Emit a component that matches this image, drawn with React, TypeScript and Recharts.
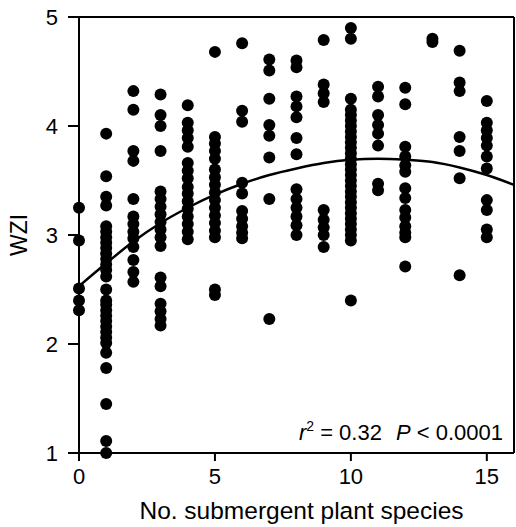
import React from 'react';
import {
  ComposedChart,
  Scatter,
  Line,
  XAxis,
  YAxis,
  ReferenceLine,
  Customized,
} from 'recharts';

// WZI values, one list per number of submergent species
const speciesCounts = [0, 1, 2, 3, 4, 5, 6, 7, 8, 9, 10, 11, 12, 13, 14, 15];

const wzi0 = [3.25, 2.95, 2.51, 2.4, 2.31];
const wzi1 = [3.93, 3.54, 3.35, 3.27, 3.08, 3.03, 2.98, 2.93, 2.88, 2.83, 2.78, 2.73, 2.68, 2.62, 2.5, 2.4, 2.36, 2.31, 2.26, 2.21, 2.16, 2.11, 2.06, 2.01, 1.92, 1.78, 1.45, 1.11, 1.0];
const wzi2 = [4.32, 4.15, 3.77, 3.68, 3.33, 3.17, 3.1, 3.03, 2.97, 2.89, 2.77, 2.66, 2.57];
const wzi3 = [4.29, 4.1, 4.0, 3.77, 3.4, 3.33, 3.26, 3.19, 3.12, 3.05, 2.98, 2.9, 2.61, 2.53, 2.37, 2.3, 2.23, 2.17];
const wzi4 = [4.19, 4.03, 3.96, 3.89, 3.81, 3.66, 3.59, 3.52, 3.44, 3.38, 3.31, 3.24, 3.17, 3.1, 3.03, 2.96];
const wzi5 = [4.68, 3.9, 3.84, 3.77, 3.7, 3.6, 3.53, 3.46, 3.39, 3.32, 3.25, 3.18, 3.11, 3.04, 2.98, 2.5, 2.45];
const wzi6 = [4.76, 4.14, 4.04, 3.48, 3.38, 3.22, 3.15, 3.08, 3.02, 2.97];
const wzi7 = [4.61, 4.51, 4.25, 4.01, 3.91, 3.71, 3.33, 2.23];
const wzi8 = [4.6, 4.54, 4.27, 4.18, 4.08, 3.89, 3.74, 3.42, 3.33, 3.25, 3.17, 3.09, 3.0];
const wzi9 = [4.79, 4.38, 4.3, 4.22, 3.23, 3.14, 3.07, 3.0, 2.89];
const wzi10 = [4.9, 4.8, 4.25, 4.15, 4.1, 4.05, 4.0, 3.95, 3.9, 3.85, 3.8, 3.75, 3.7, 3.65, 3.6, 3.55, 3.5, 3.45, 3.4, 3.35, 3.3, 3.25, 3.2, 3.15, 3.1, 3.05, 3.0, 2.95, 2.4];
const wzi11 = [4.36, 4.27, 4.1, 4.01, 3.93, 3.82, 3.47, 3.41];
const wzi12 = [4.35, 4.2, 3.81, 3.72, 3.64, 3.58, 3.43, 3.34, 3.23, 3.16, 3.08, 3.02, 2.98, 2.71];
const wzi13 = [4.8, 4.77];
const wzi14 = [4.69, 4.4, 4.32, 3.9, 3.77, 3.52, 2.63];
const wzi15 = [4.23, 4.03, 3.96, 3.89, 3.82, 3.72, 3.61, 3.32, 3.23, 3.05, 2.98];

const columns = [wzi0, wzi1, wzi2, wzi3, wzi4, wzi5, wzi6, wzi7, wzi8, wzi9, wzi10, wzi11, wzi12, wzi13, wzi14, wzi15];

// fitted quadratic curve, read at whole species counts
const fitX = [0, 1, 2, 3, 4, 5, 6, 7, 8, 9, 10, 11, 12, 13, 14, 15, 16];
const fitY = [2.53, 2.74, 2.94, 3.11, 3.25, 3.37, 3.47, 3.55, 3.61, 3.66, 3.69, 3.7, 3.69, 3.67, 3.62, 3.55, 3.46];

const xTicks = [0, 5, 10, 15];
const yTicks = [1, 2, 3, 4, 5];

const points = speciesCounts.flatMap((n, i) => columns[i].map((y) => ({ x: n, y })));
const fitData = fitX.map((x, i) => ({ x, y: fitY[i] }));

const FONT = '"Liberation Sans", Arial, Helvetica, sans-serif';

const Dot = (props: any) => <circle cx={props.cx} cy={props.cy} r={6} fill="#000" />;

const YTitle = (props: any) => {
  const vb = props.viewBox;
  const cx = 19;
  const cy = vb.y + vb.height / 2;
  return (
    <text x={cx} y={cy} transform={`rotate(-90 ${cx} ${cy})`} textAnchor="middle" dominantBaseline="central"
      fontFamily={FONT} fontSize={23} fill="#000">WZI</text>
  );
};

const XTitle = (props: any) => {
  const vb = props.viewBox;
  return (
    <text x={vb.x + vb.width / 2 + 5} y={519} textAnchor="middle" fontFamily={FONT} fontSize={24.5} fill="#000">
      No. submergent plant species
    </text>
  );
};

const Stats = () => (
  <text x={503} y={440} textAnchor="end" fontFamily={FONT} fontSize={22} fill="#000">
    <tspan fontStyle="italic">r</tspan>
    <tspan fontSize={14} dy={-9}>2</tspan>
    <tspan dy={9}> = 0.32</tspan>
    <tspan dx={14} fontStyle="italic">P</tspan>
    <tspan> &lt; 0.0001</tspan>
  </text>
);

export default function App() {
  return (
    <div style={{ position: 'absolute', left: 0, top: 0 }}>
      <ComposedChart width={516} height={527} margin={{ top: 17, right: 2, left: 0, bottom: 0 }}>
        <XAxis
          dataKey="x"
          type="number"
          domain={[0, 16]}
          ticks={xTicks}
          height={74}
          tickSize={8}
          tickMargin={7}
          axisLine={{ stroke: '#000', strokeWidth: 2 }}
          tickLine={{ stroke: '#000', strokeWidth: 2 }}
          tick={{ fill: '#000', fontSize: 22, fontFamily: FONT }}
          label={{ content: XTitle }}
        />
        <YAxis
          dataKey="y"
          type="number"
          domain={[1, 5]}
          ticks={yTicks}
          width={79}
          tickSize={11}
          tickMargin={10}
          axisLine={{ stroke: '#000', strokeWidth: 2 }}
          tickLine={{ stroke: '#000', strokeWidth: 2 }}
          tick={{ fill: '#000', fontSize: 22, fontFamily: FONT }}
          label={{ content: YTitle }}
        />
        <ReferenceLine y={5} stroke="#000" strokeWidth={2} />
        <ReferenceLine x={16} stroke="#000" strokeWidth={2} />
        <Scatter data={points} dataKey="y" shape={Dot} isAnimationActive={false} />
        <Line data={fitData} dataKey="y" type="monotone" stroke="#000" strokeWidth={2.5} dot={false}
          activeDot={false} isAnimationActive={false} />
        <Customized component={Stats} />
      </ComposedChart>
    </div>
  );
}
